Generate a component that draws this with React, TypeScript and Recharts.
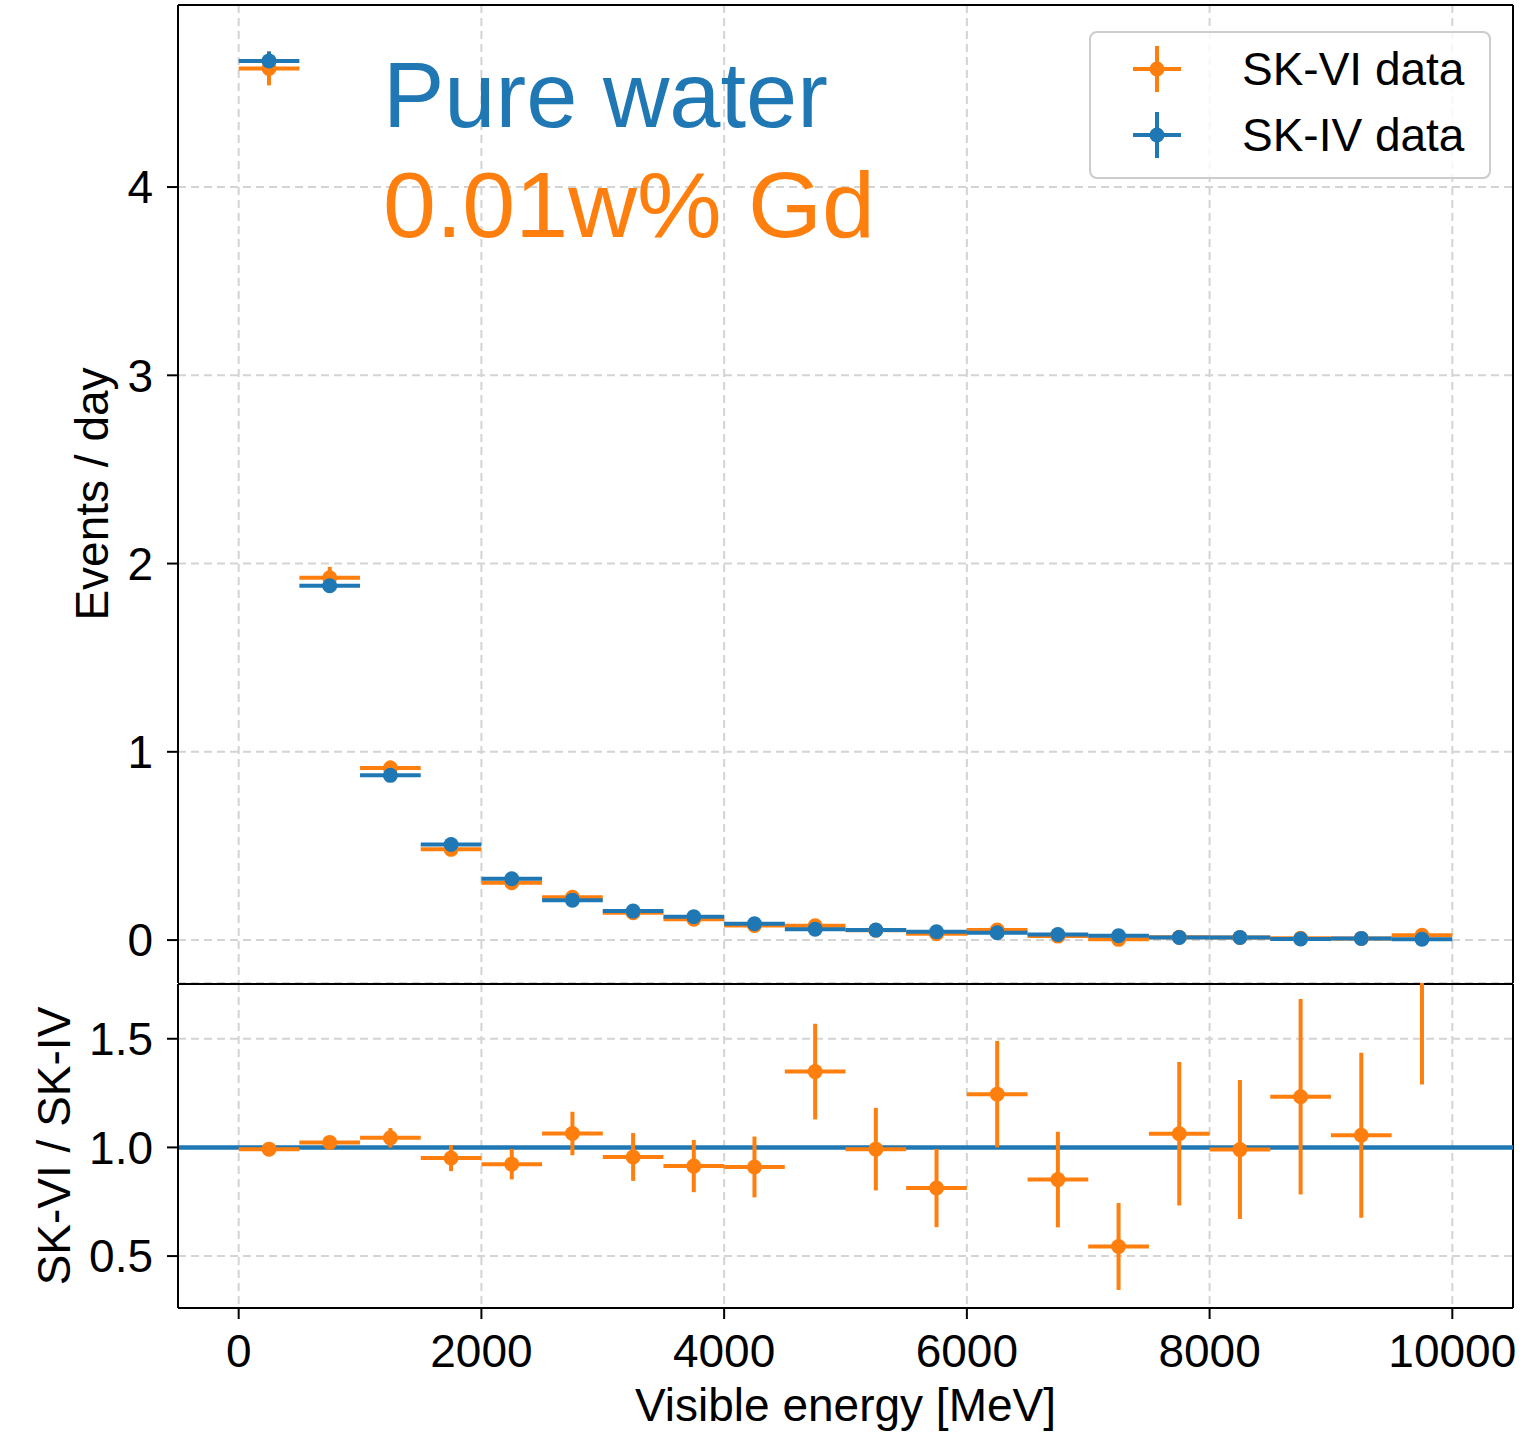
import React from 'react';
import {
  ComposedChart,
  Scatter,
  ErrorBar,
  XAxis,
  YAxis,
  CartesianGrid,
  ReferenceLine,
  Legend,
} from 'recharts';

// ---- data ----
const binCenters = [250, 750, 1250, 1750, 2250, 2750, 3250, 3750, 4250, 4750, 5250, 5750, 6250, 6750, 7250, 7750, 8250, 8750, 9250, 9750];
const binHalfWidth = [250, 250, 250, 250, 250, 250, 250, 250, 250, 250, 250, 250, 250, 250, 250, 250, 250, 250, 250, 250];
const skVI = [4.63, 1.925, 0.914, 0.482, 0.305, 0.227, 0.145, 0.111, 0.078, 0.076, 0.052, 0.034, 0.053, 0.021, 0.004, 0.015, 0.014, 0.010, 0.009, 0.025];
const skVIErr = [0.09, 0.057, 0.04, 0.03, 0.025, 0.02, 0.017, 0.015, 0.013, 0.013, 0.011, 0.009, 0.011, 0.008, 0.003, 0.005, 0.005, 0.005, 0.004, 0.007];
const skIV = [4.67, 1.882, 0.875, 0.508, 0.326, 0.212, 0.154, 0.124, 0.087, 0.058, 0.053, 0.044, 0.039, 0.030, 0.023, 0.014, 0.014, 0.006, 0.009, 0.005];
const skIVErr = [0.05, 0.03, 0.02, 0.015, 0.012, 0.01, 0.008, 0.007, 0.006, 0.005, 0.005, 0.004, 0.004, 0.003, 0.003, 0.002, 0.002, 0.002, 0.002, 0.002];
const ratio = [0.992, 1.023, 1.044, 0.951, 0.923, 1.064, 0.956, 0.914, 0.910, 1.349, 0.992, 0.813, 1.245, 0.852, 0.544, 1.063, 0.990, 1.233, 1.056, 2.0];
const ratioErr = [0.02, 0.025, 0.045, 0.06, 0.07, 0.10, 0.11, 0.12, 0.14, 0.22, 0.19, 0.18, 0.245, 0.22, 0.20, 0.33, 0.32, 0.45, 0.38, 0.71];

const xTicks = [0, 2000, 4000, 6000, 8000, 10000];
const topYTicks = [0, 1, 2, 3, 4];
const ratioYTicks = [0.5, 1.0, 1.5];

const xDomain: [number, number] = [-500, 10500];
const topYDomain: [number, number] = [-0.228, 4.967];
const ratioYDomain: [number, number] = [0.261, 1.752];

const ORANGE = '#ff7f0e';
const BLUE = '#1f77b4';
const FONT = '"Liberation Sans", Arial, Helvetica, sans-serif';

const viData = binCenters.map((x, i) => ({ x, y: skVI[i], xerr: binHalfWidth[i], yerr: skVIErr[i] }));
const ivData = binCenters.map((x, i) => ({ x, y: skIV[i], xerr: binHalfWidth[i], yerr: skIVErr[i] }));
const ratioData = binCenters.map((x, i) => ({ x, y: ratio[i], xerr: binHalfWidth[i], yerr: ratioErr[i] }));

const dot = (color: string) => (props: any) => {
  if (props.cx == null || props.cy == null) return <g />;
  return <circle cx={props.cx} cy={props.cy} r={7.5} fill={color} />;
};

const axisLine = { stroke: '#000', strokeWidth: 2 };
const tickLine = { stroke: '#000', strokeWidth: 2 };
const tickStyle = { fill: '#000', fontSize: 46, fontFamily: FONT };
const noTick = () => <g />;

const LegendIcon = ({ color }: { color: string }) => (
  <svg width={50} height={50} style={{ display: 'block' }}>
    <line x1={1} x2={49} y1={25} y2={25} stroke={color} strokeWidth={4} />
    <line x1={25} x2={25} y1={2} y2={48} stroke={color} strokeWidth={4} />
    <circle cx={25} cy={25} r={7.5} fill={color} />
  </svg>
);

const LegendBox = () => (
  <div
    style={{
      width: 398,
      height: 144,
      border: '2px solid #cccccc',
      borderRadius: 8,
      background: 'rgba(255,255,255,0.8)',
      fontFamily: FONT,
      fontSize: 46,
      color: '#000',
      position: 'relative',
      boxSizing: 'content-box',
    }}
  >
    {[
      { label: 'SK-VI data', color: ORANGE, top: 11 },
      { label: 'SK-IV data', color: BLUE, top: 77 },
    ].map((e) => (
      <div key={e.label} style={{ position: 'absolute', left: 41, top: e.top, height: 50, display: 'flex', alignItems: 'center' }}>
        <LegendIcon color={e.color} />
        <span style={{ marginLeft: 60, lineHeight: '50px', whiteSpace: 'nowrap' }}>{e.label}</span>
      </div>
    ))}
  </div>
);

export default function App() {
  return (
    <div style={{ position: 'absolute', left: 0, top: 0, width: 1527, height: 1438, background: '#fff', fontFamily: FONT }}>
      <div style={{ position: 'absolute', left: 0, top: 0 }}>
        <ComposedChart width={1527} height={984} margin={{ top: 5, right: 14, bottom: 1, left: 0 }}>
          <CartesianGrid stroke="#d4d4d4" strokeWidth={2} strokeDasharray="8 5" />
          <XAxis
            dataKey="x"
            type="number"
            domain={xDomain}
            ticks={xTicks}
            allowDataOverflow
            height={0}
            tick={noTick}
            tickLine={false}
            axisLine={axisLine}
          />
          <YAxis
            type="number"
            domain={topYDomain}
            ticks={topYTicks}
            allowDataOverflow
            width={178}
            tick={tickStyle}
            tickLine={tickLine}
            tickSize={11}
            tickMargin={14}
            axisLine={axisLine}
            label={{ value: 'Events / day', angle: -90, position: 'insideLeft', offset: 92, style: { textAnchor: 'middle', fontSize: 46, fill: '#000', fontFamily: FONT } }}
          />
          <ReferenceLine x={xDomain[1]} stroke="#000" strokeWidth={2} />
          <ReferenceLine y={topYDomain[1]} stroke="#000" strokeWidth={2} />
          <Scatter name="SK-VI data" data={viData} dataKey="y" fill={ORANGE} shape={dot(ORANGE)} isAnimationActive={false}>
            <ErrorBar dataKey="xerr" direction="x" width={0} stroke={ORANGE} strokeWidth={4} />
            <ErrorBar dataKey="yerr" direction="y" width={0} stroke={ORANGE} strokeWidth={4} />
          </Scatter>
          <Scatter name="SK-IV data" data={ivData} dataKey="y" fill={BLUE} shape={dot(BLUE)} isAnimationActive={false}>
            <ErrorBar dataKey="xerr" direction="x" width={0} stroke={BLUE} strokeWidth={4} />
            <ErrorBar dataKey="yerr" direction="y" width={0} stroke={BLUE} strokeWidth={4} />
          </Scatter>
          <Legend
            layout="horizontal"
            verticalAlign="middle"
            align="center"
            content={() => <LegendBox />}
            wrapperStyle={{ position: 'absolute', left: 1089, top: 31, width: 402, height: 148 }}
          />
          <text x={383} y={127} fontSize={92} fill={BLUE} fontFamily={FONT}>Pure water</text>
          <text x={383} y={237} fontSize={92} fill={ORANGE} fontFamily={FONT} textLength={492} lengthAdjust="spacingAndGlyphs">0.01w% Gd</text>
        </ComposedChart>
      </div>
      <div style={{ position: 'absolute', left: 0, top: 983 }}>
        <ComposedChart width={1527} height={455} margin={{ top: 1, right: 14, bottom: 0, left: 0 }}>
          <CartesianGrid stroke="#d4d4d4" strokeWidth={2} strokeDasharray="8 5" />
          <XAxis
            dataKey="x"
            type="number"
            domain={xDomain}
            ticks={xTicks}
            allowDataOverflow
            height={130}
            tick={tickStyle}
            tickLine={tickLine}
            tickSize={11}
            tickMargin={15}
            axisLine={axisLine}
            label={{ value: 'Visible energy [MeV]', position: 'insideBottom', offset: 17, style: { textAnchor: 'middle', fontSize: 46, fill: '#000', fontFamily: FONT } }}
          />
          <YAxis
            type="number"
            domain={ratioYDomain}
            ticks={ratioYTicks}
            allowDataOverflow
            width={178}
            tick={tickStyle}
            tickFormatter={(v: number) => v.toFixed(1)}
            tickLine={tickLine}
            tickSize={11}
            tickMargin={14}
            axisLine={axisLine}
            label={{ value: 'SK-VI / SK-IV', angle: -90, position: 'insideLeft', offset: 54, style: { textAnchor: 'middle', fontSize: 46, fill: '#000', fontFamily: FONT } }}
          />
          <ReferenceLine x={xDomain[1]} stroke="#000" strokeWidth={2} />
          <ReferenceLine y={ratioYDomain[1]} stroke="#000" strokeWidth={2} />
          <ReferenceLine y={1} stroke={BLUE} strokeWidth={4.5} />
          <Scatter name="SK-VI / SK-IV" data={ratioData} dataKey="y" fill={ORANGE} shape={dot(ORANGE)} isAnimationActive={false}>
            <ErrorBar dataKey="xerr" direction="x" width={0} stroke={ORANGE} strokeWidth={4} />
            <ErrorBar dataKey="yerr" direction="y" width={0} stroke={ORANGE} strokeWidth={4} />
          </Scatter>
        </ComposedChart>
      </div>
    </div>
  );
}
